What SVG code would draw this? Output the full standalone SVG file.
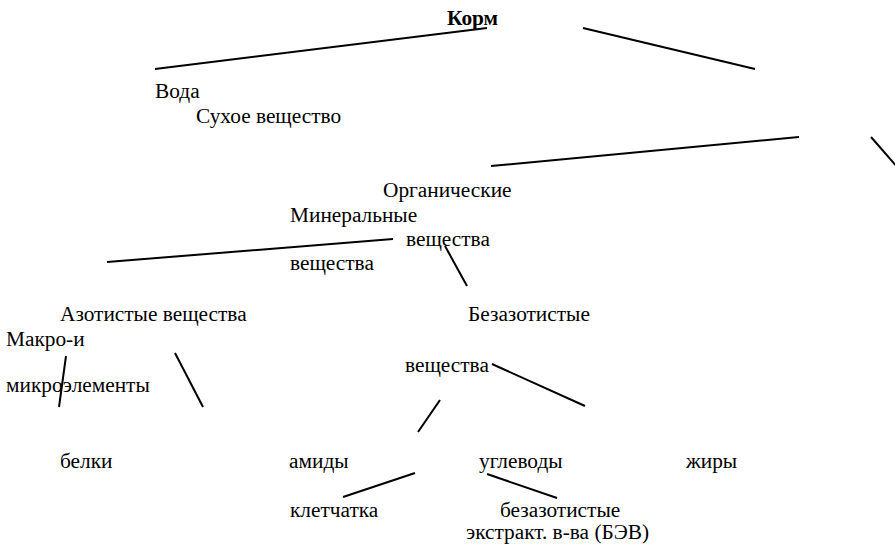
<svg xmlns="http://www.w3.org/2000/svg" width="895" height="545" viewBox="0 0 895 545">
<style>
text{font-family:"Liberation Serif","Times New Roman",serif;font-size:21.33px;fill:#000}
.b{font-weight:bold}
line{stroke:#000;stroke-width:2}
</style>
<rect width="895" height="545" fill="#fff"/>
<g id="connectors">
<line x1="155" y1="69" x2="487" y2="28"/>
<line x1="583" y1="28" x2="755" y2="69"/>
<line x1="491" y1="166" x2="799" y2="137"/>
<line x1="871" y1="137" x2="898" y2="168"/>
<line x1="107" y1="262" x2="393" y2="239"/>
<line x1="445" y1="246" x2="467" y2="286"/>
<line x1="66" y1="356" x2="59" y2="407"/>
<line x1="175" y1="353" x2="203" y2="407"/>
<line x1="492" y1="364" x2="585" y2="406"/>
<line x1="440" y1="400" x2="418" y2="432"/>
<line x1="343" y1="497" x2="415" y2="473"/>
<line x1="487" y1="474" x2="557" y2="498"/>
</g>
<g id="n-korm"><text class="b" x="447" y="25">Корм</text></g>
<g id="n-voda"><text x="155" y="98">Вода</text></g>
<g id="n-suhoe"><text x="196" y="123">Сухое вещество</text></g>
<g id="n-org"><text x="383" y="197">Органические</text><text x="406" y="246">вещества</text></g>
<g id="n-min"><text x="290" y="222">Минеральные</text><text x="290" y="270">вещества</text></g>
<g id="n-azot"><text x="60" y="321">Азотистые вещества</text></g>
<g id="n-bezazot"><text x="468" y="321">Безазотистые</text><text x="405" y="372">вещества</text></g>
<g id="n-makro"><text x="6" y="346">Макро-и</text><text x="6" y="392">микроэлементы</text></g>
<g id="n-belki"><text x="60" y="468">белки</text></g>
<g id="n-amidy"><text x="289" y="468">амиды</text></g>
<g id="n-uglevody"><text x="479" y="468">углеводы</text></g>
<g id="n-zhiry"><text x="686" y="468">жиры</text></g>
<g id="n-kletchatka"><text x="290" y="517">клетчатка</text></g>
<g id="n-bev"><text x="500" y="517">безазотистые</text><text x="466" y="539">экстракт. в-ва (БЭВ)</text></g>
</svg>
